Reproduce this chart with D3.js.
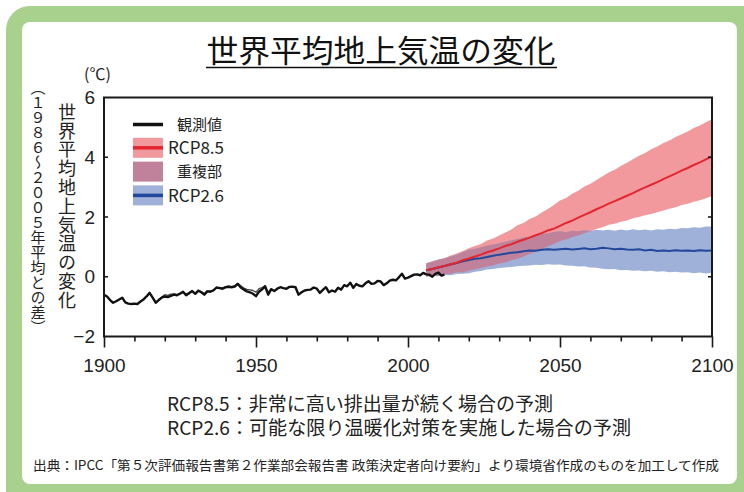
<!DOCTYPE html>
<html>
<head>
<meta charset="utf-8">
<script src="https://cdn.jsdelivr.net/npm/d3@7"></script>
<style>
  html, body { margin: 0; padding: 0; background: #ffffff; }
  svg { display: block; }
  text { font-family: "Noto Sans CJK JP", "Noto Sans", sans-serif; fill: #222; }
  .vchar { writing-mode: vertical-rl; text-orientation: upright; }
</style>
</head>
<body>
<svg id="chart" width="744" height="492"></svg>
<script>
// ---- data ----------------------------------------------------------------
const obsStart = 1900;
// annual global mean surface temperature anomaly (vs 1986-2005), °C
const obsValues = [
  -0.60, -0.66, -0.78, -0.87, -0.82, -0.76, -0.70, -0.86, -0.90, -0.91,
  -0.90, -0.91, -0.83, -0.76, -0.66, -0.54, -0.70, -0.87, -0.78, -0.70,
  -0.66, -0.68, -0.64, -0.60, -0.62, -0.57, -0.50, -0.62, -0.55, -0.48,
  -0.57, -0.47, -0.52, -0.60, -0.49, -0.50, -0.46, -0.36, -0.38, -0.40,
  -0.35, -0.34, -0.35, -0.33, -0.24, -0.36, -0.43, -0.49, -0.52, -0.57,
  -0.65, -0.50, -0.42, -0.32, -0.60, -0.42, -0.48, -0.40, -0.35, -0.38,
  -0.40, -0.34, -0.33, -0.35, -0.60, -0.52, -0.46, -0.44, -0.43, -0.36,
  -0.40, -0.54, -0.44, -0.35, -0.52, -0.46, -0.50, -0.37, -0.43, -0.28,
  -0.32, -0.20, -0.37, -0.24, -0.30, -0.32, -0.22, -0.15, -0.24, -0.22,
  -0.14, -0.16, -0.28, -0.22, -0.13, -0.10, -0.12, -0.02, 0.10, -0.06,
  -0.03, 0.02, 0.07, 0.08, 0.05, 0.13, 0.08, 0.07, 0.00, 0.10,
  0.14, 0.04, 0.07
];
// second observational dataset where it departs from the first
const obsAltStart = 1918;
const obsAltValues = [
  -0.78, -0.68, -0.60, -0.62, -0.58, -0.57, -0.60, -0.55, -0.52, -0.58,
  -0.53, -0.47, -0.55, -0.45, -0.50, -0.56, -0.47, -0.48, -0.44, -0.37,
  -0.36, -0.38, -0.33, -0.31, -0.33, -0.30, -0.22, -0.30, -0.38, -0.42,
  -0.44, -0.46, -0.52, -0.40, -0.36, -0.30, -0.52, -0.40, -0.46
];

// projection years: 2006, 2008, ..., 2100
const projStart = 2006, projStep = 2;
const rcp85Mean = [
  0.22, 0.26, 0.32, 0.36, 0.42, 0.47, 0.55, 0.61, 0.68, 0.74,
  0.82, 0.88, 0.95, 1.03, 1.09, 1.17, 1.24, 1.31, 1.39, 1.46,
  1.55, 1.61, 1.70, 1.80, 1.88, 1.98, 2.07, 2.16, 2.26, 2.35,
  2.45, 2.53, 2.62, 2.71, 2.80, 2.90, 2.99, 3.08, 3.17, 3.27,
  3.36, 3.45, 3.55, 3.64, 3.74, 3.83, 3.93, 4.03
];
const rcp85High = [
  0.45, 0.52, 0.58, 0.62, 0.71, 0.78, 0.86, 0.95, 1.03, 1.10,
  1.21, 1.28, 1.38, 1.48, 1.58, 1.72, 1.80, 1.93, 2.02, 2.15,
  2.27, 2.40, 2.55, 2.64, 2.78, 2.88, 3.02, 3.11, 3.24, 3.36,
  3.49, 3.58, 3.71, 3.82, 3.93, 4.05, 4.14, 4.27, 4.36, 4.48,
  4.56, 4.68, 4.77, 4.86, 4.98, 5.06, 5.17, 5.27
];
const rcp85Low = [
  0.00, 0.04, 0.03, 0.09, 0.10, 0.15, 0.14, 0.20, 0.25, 0.29,
  0.34, 0.38, 0.44, 0.48, 0.55, 0.60, 0.68, 0.76, 0.84, 0.92,
  1.02, 1.10, 1.20, 1.25, 1.33, 1.38, 1.46, 1.52, 1.60, 1.66,
  1.74, 1.77, 1.84, 1.88, 1.96, 2.00, 2.06, 2.10, 2.16, 2.22,
  2.28, 2.33, 2.40, 2.44, 2.51, 2.56, 2.63, 2.70
];
const rcp26Mean = [
  0.22, 0.26, 0.31, 0.36, 0.41, 0.46, 0.52, 0.56, 0.60, 0.62,
  0.66, 0.70, 0.74, 0.77, 0.80, 0.82, 0.85, 0.88, 0.87, 0.90,
  0.92, 0.90, 0.92, 0.94, 0.91, 0.93, 0.95, 0.92, 0.94, 0.97,
  0.95, 0.92, 0.94, 0.91, 0.90, 0.92, 0.88, 0.90, 0.86, 0.88,
  0.86, 0.89, 0.87, 0.88, 0.86, 0.89, 0.87, 0.88
];
const rcp26High = [
  0.45, 0.50, 0.57, 0.62, 0.68, 0.74, 0.82, 0.90, 0.94, 0.99,
  1.05, 1.08, 1.12, 1.17, 1.22, 1.26, 1.31, 1.35, 1.40, 1.43,
  1.46, 1.50, 1.52, 1.49, 1.54, 1.52, 1.56, 1.53, 1.57, 1.55,
  1.57, 1.54, 1.58, 1.55, 1.59, 1.56, 1.58, 1.55, 1.59, 1.57,
  1.61, 1.59, 1.63, 1.62, 1.66, 1.64, 1.68, 1.68
];
const rcp26Low = [
  0.00, 0.03, 0.02, 0.06, 0.05, 0.09, 0.10, 0.12, 0.17, 0.19,
  0.24, 0.26, 0.29, 0.31, 0.33, 0.35, 0.37, 0.38, 0.40, 0.39,
  0.42, 0.40, 0.41, 0.38, 0.37, 0.34, 0.35, 0.31, 0.30, 0.27,
  0.25, 0.26, 0.22, 0.23, 0.20, 0.21, 0.18, 0.20, 0.17, 0.18,
  0.15, 0.17, 0.14, 0.15, 0.12, 0.14, 0.11, 0.13
];

const xTicksMajor = [1900, 1950, 2000, 2050, 2100];
const xTicksMinor = [1910, 1920, 1930, 1940, 1960, 1970, 1980, 1990,
                     2010, 2020, 2030, 2040, 2060, 2070, 2080, 2090];
const yTicks = [-2, 0, 2, 4, 6];
const yInnerTicks = [0, 2, 4];

const titleText = "世界平均地上気温の変化";
const yLabelMain = ["世", "界", "平", "均", "地", "上", "気", "温", "の", "変", "化"];
const yLabelSub = ["（", "１", "９", "８", "６", "～", "２", "０", "０", "５", "年", "平", "均", "と", "の", "差", "）"];
const unitText = "(℃)";
const legendItems = [
  { key: "obs", label: "観測値" },
  { key: "rcp85", label: "RCP8.5" },
  { key: "overlap", label: "重複部" },
  { key: "rcp26", label: "RCP2.6" }
];
const noteLines = [
  "RCP8.5：非常に高い排出量が続く場合の予測",
  "RCP2.6：可能な限り温暖化対策を実施した場合の予測"
];
const sourceText = "出典：IPCC「第５次評価報告書第２作業部会報告書 政策決定者向け要約」より環境省作成のものを加工して作成";

// ---- styles ----------------------------------------------------------------
const C = {
  green: "#a9d18e",
  red: "#e32630",
  redBand: "#f2999e",
  blue: "#23479b",
  blueBand: "#9fb1d8",
  overlap: "#c0829a",
  ink: "#1a1a1a"
};
const tickFont = "'Liberation Sans', Arial, sans-serif";

// ---- build series ---------------------------------------------------------
const obs = obsValues.map((v, i) => ({ year: obsStart + i, v }));
const obsAlt = obsAltValues.map((v, i) => ({ year: obsAltStart + i, v }));
const proj = rcp85Mean.map((_, i) => ({
  year: projStart + i * projStep,
  m85: rcp85Mean[i], hi85: rcp85High[i], lo85: rcp85Low[i],
  m26: rcp26Mean[i], hi26: rcp26High[i], lo26: rcp26Low[i]
}));

// ---- frame ----------------------------------------------------------------
const svg = d3.select("#chart");

svg.append("rect").attr("x", 6).attr("y", 6).attr("width", 770).attr("height", 520)
  .attr("rx", 24).attr("fill", C.green);
svg.append("rect").attr("x", 22).attr("y", 22).attr("width", 715).attr("height", 462)
  .attr("rx", 8).attr("fill", "#ffffff");

// title with underline
svg.append("text").attr("x", 381).attr("y", 62)
  .attr("text-anchor", "middle").attr("font-size", 31)
  .attr("textLength", 349).attr("lengthAdjust", "spacingAndGlyphs")
  .style("fill", "#111").text(titleText);
svg.append("line").attr("x1", 206).attr("x2", 557).attr("y1", 67.5).attr("y2", 67.5)
  .attr("stroke", "#111").attr("stroke-width", 1.5);

// ---- scales -----------------------------------------------------------------
const x = d3.scaleLinear().domain([1900, 2100]).range([104, 712]);
const y = d3.scaleLinear().domain([-2, 6]).range([336.5, 97.5]);

const plot = svg.append("g");

// projection bands
const area = (hi, lo) => d3.area().x(d => x(d.year)).y0(d => y(d[lo])).y1(d => y(d[hi]));
const line = (key) => d3.line().x(d => x(d.year)).y(d => y(d[key]));

svg.append("defs").append("clipPath").attr("id", "clip26")
  .append("path").attr("d", area("hi26", "lo26")(proj));

plot.append("path").attr("d", area("hi85", "lo85")(proj)).attr("fill", C.redBand);
plot.append("path").attr("d", area("hi26", "lo26")(proj)).attr("fill", C.blueBand);
plot.append("path").attr("d", area("hi85", "lo85")(proj)).attr("fill", C.overlap)
  .attr("clip-path", "url(#clip26)");

plot.append("path").attr("d", line("m26")(proj)).attr("fill", "none")
  .attr("stroke", C.blue).attr("stroke-width", 2);
plot.append("path").attr("d", line("m85")(proj)).attr("fill", "none")
  .attr("stroke", C.red).attr("stroke-width", 2);

// observations
const obsLine = d3.line().x(d => x(d.year)).y(d => y(d.v));
plot.append("path").attr("d", obsLine(obsAlt)).attr("fill", "none")
  .attr("stroke", "#444").attr("stroke-width", 1.3).attr("stroke-linejoin", "round");
plot.append("path").attr("d", obsLine(obs)).attr("fill", "none")
  .attr("stroke", "#111").attr("stroke-width", 2.4).attr("stroke-linejoin", "round");

// plot frame
plot.append("rect")
  .attr("x", x.range()[0]).attr("y", y.range()[1])
  .attr("width", x.range()[1] - x.range()[0]).attr("height", y.range()[0] - y.range()[1])
  .attr("fill", "none").attr("stroke", C.ink).attr("stroke-width", 2);

// ---- axes ---------------------------------------------------------------------
const xAxisG = svg.append("g").attr("transform", `translate(0,${y.range()[0]})`);
xAxisG.call(d3.axisBottom(x).tickValues(xTicksMinor).tickSize(5).tickFormat(""));
xAxisG.append("g").call(d3.axisBottom(x).tickValues(xTicksMajor).tickSize(11).tickPadding(11)
  .tickFormat(d3.format("d")));
xAxisG.selectAll(".domain").remove();
xAxisG.selectAll("line").attr("stroke", C.ink).attr("stroke-width", 1.6);
xAxisG.selectAll("text").attr("font-size", 19).style("fill", "#222")
  .style("font-family", tickFont);

const yAxisG = svg.append("g").attr("transform", `translate(${x.range()[0]},0)`);
yAxisG.call(d3.axisLeft(y).tickValues(yTicks).tickSize(0).tickPadding(9).tickFormat(d3.format("d")));
yAxisG.selectAll(".domain").remove();
yAxisG.selectAll("text").attr("font-size", 19).style("fill", "#222")
  .style("font-family", tickFont);

// inner ticks on both vertical sides
svg.append("g").selectAll("line").data(yInnerTicks).join("line")
  .attr("x1", x.range()[0]).attr("x2", x.range()[0] + 4)
  .attr("y1", d => y(d)).attr("y2", d => y(d))
  .attr("stroke", C.ink).attr("stroke-width", 1.6);
svg.append("g").selectAll("line").data(yInnerTicks).join("line")
  .attr("x1", x.range()[1]).attr("x2", x.range()[1] - 4)
  .attr("y1", d => y(d)).attr("y2", d => y(d))
  .attr("stroke", C.ink).attr("stroke-width", 1.6);

// unit
svg.append("text").attr("x", 84).attr("y", 80).attr("font-size", 16).text(unitText);

// vertical axis titles: one glyph per cell, stacked top to bottom
svg.append("g").selectAll("text").data(yLabelMain).join("text")
  .attr("class", "vchar").attr("x", 67).attr("y", (d, i) => 103 + i * 18.8)
  .attr("font-size", 18).text(d => d);
svg.append("g").selectAll("text").data(yLabelSub).join("text")
  .attr("class", "vchar").attr("x", 38).attr("y", (d, i) => 80 + i * 15)
  .attr("font-size", 15).text(d => d);

// ---- legend ---------------------------------------------------------------
const lg = svg.append("g");
const lx = 133, lw = 30;
legendItems.forEach((item, i) => {
  const top = 114 + i * 23.8;
  const cy = i === 0 ? 124.5 : top + 10;
  if (item.key === "obs") {
    lg.append("line").attr("x1", lx).attr("x2", lx + lw).attr("y1", cy).attr("y2", cy)
      .attr("stroke", "#111").attr("stroke-width", 3.5);
  } else {
    const fill = item.key === "rcp85" ? C.redBand : item.key === "rcp26" ? C.blueBand : C.overlap;
    lg.append("rect").attr("x", lx).attr("y", cy - 10).attr("width", lw).attr("height", 20)
      .attr("fill", fill);
    if (item.key !== "overlap") {
      lg.append("line").attr("x1", lx).attr("x2", lx + lw).attr("y1", cy).attr("y2", cy)
        .attr("stroke", item.key === "rcp85" ? C.red : C.blue).attr("stroke-width", 3.5);
    }
  }
  const isCjk = item.key === "obs" || item.key === "overlap";
  lg.append("text").attr("x", isCjk ? 177 : 168).attr("y", cy).attr("dy", "0.36em")
    .attr("font-size", isCjk ? 15 : 17).style("fill", "#222").text(item.label);
});

// ---- notes -------------------------------------------------------------------
svg.append("g").selectAll("text").data(noteLines).join("text")
  .attr("x", 167).attr("y", (d, i) => 411 + i * 23.5)
  .attr("font-size", 19).style("fill", "#222")
  .attr("textLength", (d, i) => i === 0 ? 386 : 464).attr("lengthAdjust", "spacingAndGlyphs")
  .text(d => d);

svg.append("text").attr("x", 33).attr("y", 470).attr("font-size", 13)
  .attr("textLength", 686).attr("lengthAdjust", "spacingAndGlyphs")
  .style("fill", "#222").text(sourceText);
</script>
</body>
</html>
